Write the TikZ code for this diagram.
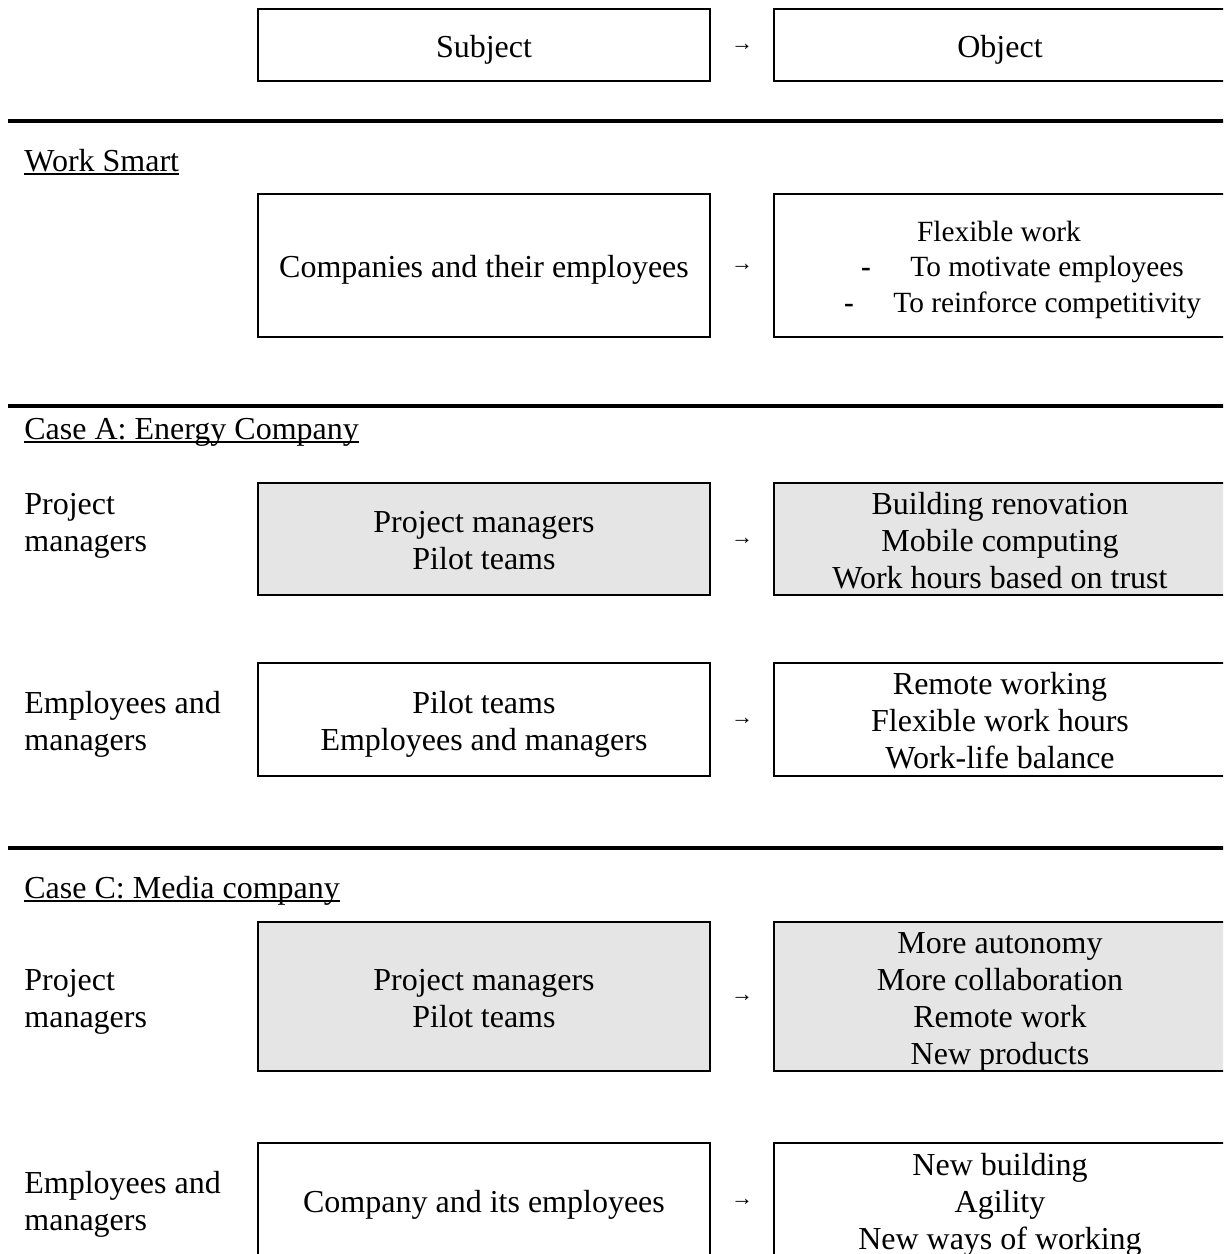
\documentclass[tikz,border=0pt]{standalone}
\usepackage{fontspec}
\setmainfont{Liberation Serif}
\usetikzlibrary{calc}
\newcommand\ulhead[1]{\setbox0\hbox{#1}\rlap{\rule[-1.8pt]{\wd0}{0.9pt}}\box0}
\newcommand\fs{\rule{0pt}{15.6pt}}
\newcommand\ls{\rule[-3.3pt]{0pt}{0pt}}
\begin{document}
\begin{tikzpicture}[x=0.5pt,y=-0.5pt,
  every node/.style={font=\fontsize{16}{18.5}\selectfont},
  boxst/.style={draw, line width=1.25pt, minimum width=226pt, inner sep=0pt, align=center},
  shadest/.style={boxst, fill=black!10},
  rulest/.style={line width=2pt},
  arrst/.style={font=\fontsize{11}{13}\selectfont, inner sep=0pt, yshift=-1pt},
  lblst/.style={anchor=west, align=left, inner sep=0pt},
  hdst/.style={anchor=base west, inner sep=0pt},
  smallst/.style={font=\fontsize{14.67}{17}\selectfont, inner sep=0pt}]
\useasboundingbox (0,0) rectangle (1223,1254);
\fill[white] (0,0) rectangle (1223,1254);
\clip (0,0) rectangle (1223,1254);

% Row 1: header
\node[boxst, minimum height=36pt] (s1) at (484,45) {\fs Subject\ls};
\node[boxst, minimum height=36pt] (o1) at (1000,45) {\fs Object\ls};
\node[arrst] (a1) at ($(s1.east)!0.5!(o1.west)$) {→};

\coordinate (r1a) at (8,121); \coordinate (r1b) at (1230,121);
\draw[rulest] (r1a) -- (r1b);

% Work Smart
\node[hdst] (h1) at (24,171) {\ulhead{Work Smart}};
\node[boxst, minimum height=71.5pt] (s2) at (484,265.5) {\fs Companies and their employees\ls};
\node[boxst, minimum height=71.5pt] (o2) at (1000,265.5) {};
\node[arrst] (a2) at ($(s2.east)!0.5!(o2.west)$) {→};
\node[smallst, anchor=base] (o2t1) at (999,241) {Flexible work};
\node[smallst, anchor=base] (o2d2) at (866,276.5) {\textbf{-}};
\node[smallst, anchor=base west] (o2t2) at (910,276.5) {To motivate employees};
\node[smallst, anchor=base] (o2d3) at (849,312) {\textbf{-}};
\node[smallst, anchor=base west] (o2t3) at (893,312) {To reinforce competitivity};

\coordinate (r2a) at (8,406); \coordinate (r2b) at (1230,406);
\draw[rulest] (r2a) -- (r2b);

% Case A
\node[hdst] (h2) at (24,439) {\ulhead{Case A: Energy Company}};
\node[lblst] (l3) at (24,525.5) {Project\\managers};
\node[shadest, minimum height=56pt] (s3) at (484,539) {\fs Project managers\\Pilot teams\ls};
\node[shadest, minimum height=56pt] (o3) at (1000,539) {\fs Building renovation\\Mobile computing\\Work hours based on trust\ls};
\node[arrst] (a3) at ($(s3.east)!0.5!(o3.west)$) {→};

\node[lblst] (l4) at (24,724.5) {Employees and\\managers};
\node[boxst, minimum height=56.5pt] (s4) at (484,719.5) {\fs Pilot teams\\Employees and managers\ls};
\node[boxst, minimum height=56.5pt] (o4) at (1000,719.5) {\fs Remote working\\Flexible work hours\\Work-life balance\ls};
\node[arrst] (a4) at ($(s4.east)!0.5!(o4.west)$) {→};

\coordinate (r3a) at (8,848); \coordinate (r3b) at (1230,848);
\draw[rulest] (r3a) -- (r3b);

% Case C
\node[hdst] (h3) at (24,898) {\ulhead{Case C: Media company}};
\node[lblst] (l5) at (24,1001.5) {Project\\managers};
\node[shadest, minimum height=74.5pt] (s5) at (484,996.5) {\fs Project managers\\Pilot teams\ls};
\node[shadest, minimum height=74.5pt] (o5) at (1000,996.5) {\fs More autonomy\\More collaboration\\Remote work\\New products\ls};
\node[arrst] (a5) at ($(s5.east)!0.5!(o5.west)$) {→};

\node[lblst] (l6) at (24,1204.5) {Employees and\\managers};
\node[boxst, minimum height=57.5pt] (s6) at (484,1200.5) {\fs Company and its employees\ls};
\node[boxst, minimum height=57.5pt] (o6) at (1000,1200.5) {\fs New building\\Agility\\New ways of working\ls};
\node[arrst] (a6) at ($(s6.east)!0.5!(o6.west)$) {→};
\end{tikzpicture}
\end{document}
